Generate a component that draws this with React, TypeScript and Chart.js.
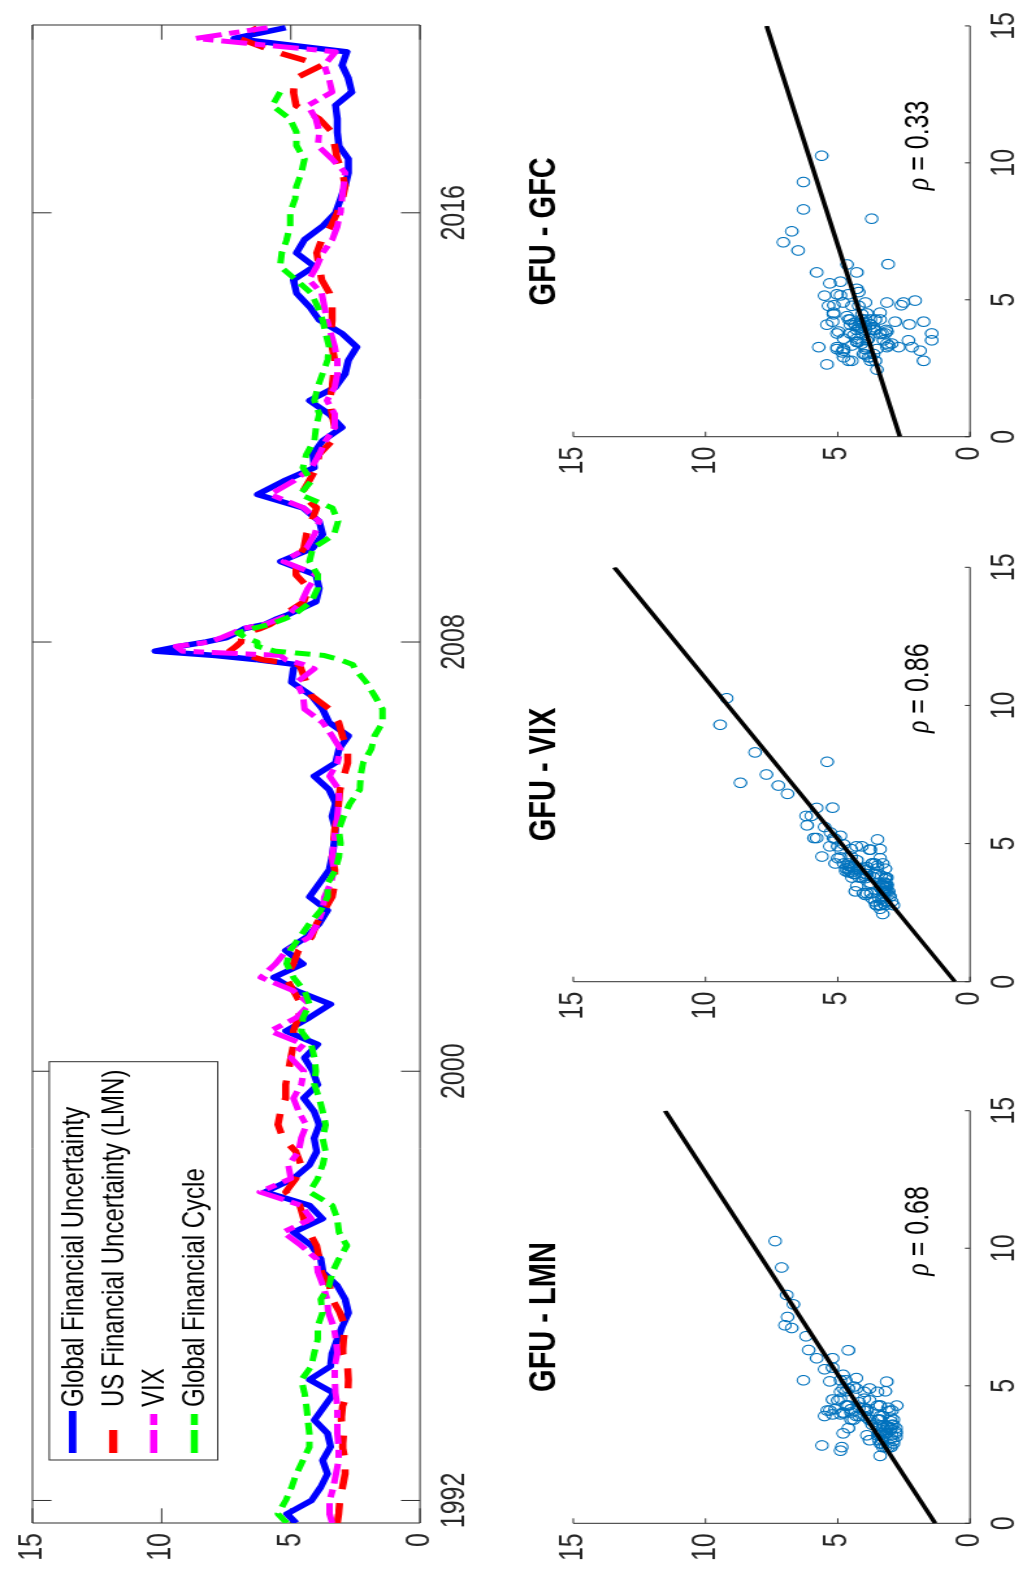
import React, { useEffect, useRef } from "react";
import { Chart, registerables } from "chart.js";

Chart.register(...registerables);

// ---------------- data ----------------
const dates = [
  1991.58, 1991.75, 1992.0, 1992.25, 1992.5, 1992.75,
  1993.0, 1993.25, 1993.5, 1993.75,
  1994.0, 1994.25, 1994.5, 1994.75,
  1995.0, 1995.25, 1995.5, 1995.75,
  1996.0, 1996.25, 1996.5, 1996.75,
  1997.0, 1997.25, 1997.5, 1997.75,
  1998.0, 1998.25, 1998.5, 1998.75,
  1999.0, 1999.25, 1999.5, 1999.75,
  2000.0, 2000.25, 2000.5, 2000.75,
  2001.0, 2001.25, 2001.5, 2001.75,
  2002.0, 2002.25, 2002.5, 2002.75,
  2003.0, 2003.25, 2003.5, 2003.75,
  2004.0, 2004.25, 2004.5, 2004.75,
  2005.0, 2005.25, 2005.5, 2005.75,
  2006.0, 2006.25, 2006.5, 2006.75,
  2007.0, 2007.25, 2007.5,
  2007.58, 2007.67, 2007.75, 2007.83, 2007.92, 2008.0, 2008.08, 2008.17, 2008.25, 2008.33, 2008.42, 2008.5,
  2008.75,
  2009.0, 2009.25, 2009.5, 2009.75,
  2010.0, 2010.25, 2010.5, 2010.75,
  2011.0, 2011.25, 2011.5, 2011.75,
  2012.0, 2012.25, 2012.5, 2012.75,
  2013.0, 2013.25, 2013.5, 2013.75,
  2014.0, 2014.25, 2014.5, 2014.75,
  2015.0, 2015.25, 2015.5, 2015.75,
  2016.0, 2016.25, 2016.5, 2016.75,
  2017.0, 2017.25, 2017.5, 2017.75,
  2018.0, 2018.25, 2018.5, 2018.75,
  2019.0, 2019.25, 2019.45,
];

const gfu = [
  4.8, 5.15, 4.2, 3.84, 3.58, 3.77,
  3.46, 3.58, 4.09, 3.71,
  3.33, 4.28, 3.46, 3.4,
  3.2, 3.0, 2.77, 2.9,
  3.2, 3.75, 3.84, 4.2,
  4.9, 3.77, 4.28, 6.0,
  4.9, 4.28, 4.0, 4.1,
  3.9, 4.1, 4.5, 3.96,
  4.15, 4.47, 3.96, 5.2,
  4.28, 3.46, 4.78, 5.66,
  4.53, 5.2, 4.4, 3.9,
  3.58, 4.28, 3.9, 3.52,
  3.4, 3.33, 3.27, 3.4,
  3.27, 3.52, 4.1, 3.27,
  3.14, 2.77, 3.52, 3.77,
  4.2, 4.97, 4.9,
  4.8, 6.3, 7.96, 10.26, 9.3, 8.3, 7.5, 7.1, 6.8, 6.0, 5.6, 5.16,
  4.03,
  3.9, 4.03, 5.4, 4.15,
  3.77, 3.9, 4.53, 6.29,
  5.28, 4.09, 4.15, 3.77,
  3.02, 3.52, 4.28, 3.27,
  2.9, 2.77, 2.45, 3.02,
  3.9, 4.28, 4.78, 4.9,
  4.09, 4.78, 4.47, 3.77,
  3.27, 3.08, 2.9, 2.77,
  2.77, 3.14, 3.2, 3.2,
  3.27, 2.64, 2.77, 3.02,
  2.83, 7.2, 5.2,
];

const lmn = [
  3.2, 3.15, 3.1, 3.0, 2.9, 2.9,
  3.0, 2.96, 3.05, 3.0,
  2.8, 2.77, 2.8, 3.0,
  2.96, 2.9, 3.1, 3.4,
  3.5, 3.8, 3.9, 4.0,
  4.3, 4.5, 4.65, 5.2,
  4.8, 4.6, 4.8, 5.3,
  5.5, 5.4, 5.2, 5.2,
  5.1, 5.0, 4.9, 4.9,
  4.7, 4.6, 4.9, 5.2,
  4.9, 4.7, 4.2, 4.0,
  3.7, 3.4, 3.3, 3.3,
  3.4, 3.35, 3.3, 3.2,
  3.15, 3.1, 2.95, 2.8,
  2.8, 3.0, 3.15, 3.5,
  4.2, 4.4, 4.6,
  4.7, 6.1, 6.68, 7.37, 7.12, 6.93, 6.9, 6.74, 6.2, 5.8, 5.5, 5.3,
  4.5,
  4.3, 4.8, 4.8, 4.5,
  4.4, 4.2, 4.0, 4.6,
  4.3, 4.0, 3.9, 3.4,
  3.3, 3.4, 3.5, 3.4,
  3.35, 3.3, 3.4, 3.45,
  3.4, 3.4, 3.5, 3.8,
  3.9, 4.0, 3.8, 3.45,
  3.2, 3.0, 2.9, 3.0,
  3.2, 3.3, 3.4, 3.9,
  4.8, 4.9, 4.85, 3.8,
  5.6, 7.0, 6.3,
];

const vix = [
  3.4, 3.5, 3.5, 3.35, 3.25, 3.15,
  3.15, 3.2, 3.2, 3.2,
  3.27, 3.3, 3.3, 3.2,
  3.25, 3.35, 3.55, 3.6,
  3.75, 3.95, 4.0, 4.6,
  5.3, 4.2, 4.6, 6.2,
  5.0, 5.1, 4.7, 4.6,
  4.4, 4.7, 4.9, 4.6,
  4.5, 5.0, 4.5, 5.8,
  4.78, 4.28, 4.9, 6.16,
  5.6, 5.16, 4.28, 3.96,
  3.77, 3.7, 3.46, 3.33,
  3.4, 3.33, 3.27, 3.2,
  3.14, 3.14, 3.5, 3.2,
  3.08, 3.4, 3.77, 4.47,
  4.53, 4.78, 4.09,
  4.5, 5.2, 5.4, 9.2, 9.45, 8.13, 7.7, 7.25, 6.9, 6.0, 5.5, 5.1,
  4.59,
  4.34, 3.96, 5.28, 4.4,
  4.09, 3.9, 4.5, 5.8,
  4.9, 4.2, 3.9, 3.65,
  3.3, 3.3, 3.6, 3.3,
  3.2, 3.2, 3.3, 3.45,
  3.6, 3.7, 3.8, 4.3,
  4.0, 3.77, 3.4, 3.2,
  3.08, 3.02, 2.96, 2.9,
  3.4, 3.96, 3.9, 4.03,
  4.34, 3.4, 3.52, 3.71,
  3.27, 8.68, 5.9,
];

const gfc = [
  5.15, 5.5, 5.2, 4.97, 4.78, 4.53,
  4.28, 4.28, 4.34, 4.4,
  4.47, 4.59, 4.21, 4.09,
  3.96, 3.96, 3.77, 3.84,
  3.52, 3.4, 3.14, 2.83,
  3.14, 3.2, 3.4, 4.28,
  3.96, 3.77, 3.65, 3.77,
  3.65, 3.77, 3.9, 4.09,
  4.03, 4.09, 4.21, 4.6,
  4.53, 4.28, 4.47, 4.9,
  5.16, 5.03, 4.65, 4.28,
  3.84, 3.58, 3.58, 3.27,
  3.14, 3.08, 3.14, 2.96,
  2.7, 2.33, 2.3, 2.2,
  1.89, 1.76, 1.45, 1.45,
  1.76, 2.08, 2.52,
  2.6, 3.1, 3.72, 5.61, 6.3, 6.3, 6.74, 7.06, 6.5, 5.8, 5.3, 4.9,
  4.21,
  3.96, 3.96, 4.28, 4.15,
  3.33, 3.17, 3.4, 4.65,
  4.21, 4.53, 4.4, 4.09,
  4.03, 3.9, 4.09, 3.96,
  3.77, 3.58, 3.52, 3.65,
  3.77, 3.96, 4.21, 4.8,
  5.41, 5.35, 5.16, 5.03,
  5.03, 4.84, 4.78, 4.59,
  4.47, 4.78, 4.78, 5.03,
  5.72, 5.41, null, null,
  null, null, null,
];

const seriesNames = [
  "Global Financial Uncertainty",
  "US Financial Uncertainty (LMN)",
  "VIX",
  "Global Financial Cycle",
];
const yearTicks = [1992, 2000, 2008, 2016];
const valueTicks = [0, 5, 10, 15];
const timeRange = [1991.58, 2019.5];

const scatterTitles = ["GFU - LMN", "GFU - VIX", "GFU - GFC"];
const rhoValues = ["0.68", "0.86", "0.33"];
const rhoAnchor = [9, 1.9];
// regression line: y at x = 0 and y at x = 15
const fitLMN = [1.32, 11.53];
const fitVIX = [0.57, 13.45];
const fitGFC = [2.65, 7.69];
const fitX = [0, 15];

// ---------------- styling / layout ----------------
const S = 1.3; // vertical stretch of the original figure
const W = 1569;
const HU = 1021 / S;
const FONT = "'Liberation Sans', Arial, Helvetica, sans-serif";
const AXIS_COLOR = "#2e2e2e";
const TICK_COLOR = "#262626";

const toPoints = (xs: number[], ys: (number | null)[]) =>
  xs.map((x, i) => ({ x, y: ys[i] }));
const pairs = (a: (number | null)[], b: (number | null)[]) =>
  a
    .map((v, i) => (v == null || b[i] == null ? null : { x: v, y: b[i] as number }))
    .filter((p) => p !== null) as { x: number; y: number }[];

const axesPlugin = {
  id: "matlabAxes",
  beforeDatasetsDraw(chart: any, _args: any, opts: any) {
    const { ctx, chartArea: a, scales } = chart;
    const xs = scales.x;
    const ys = scales.y;
    ctx.save();
    ctx.strokeStyle = AXIS_COLOR;
    ctx.lineWidth = 1;
    ctx.beginPath();
    if (opts.box) {
      ctx.rect(a.left, a.top, a.right - a.left, a.bottom - a.top);
    } else {
      ctx.moveTo(a.left, a.top);
      ctx.lineTo(a.left, a.bottom);
      ctx.lineTo(a.right, a.bottom);
    }
    for (const t of xs.ticks) {
      const px = xs.getPixelForValue(t.value);
      ctx.moveTo(px, a.bottom);
      ctx.lineTo(px, a.bottom - opts.xTick);
      if (opts.box) {
        ctx.moveTo(px, a.top);
        ctx.lineTo(px, a.top + opts.xTick);
      }
    }
    for (const t of ys.ticks) {
      const py = ys.getPixelForValue(t.value);
      ctx.moveTo(a.left, py);
      ctx.lineTo(a.left + opts.yTick, py);
      if (opts.box) {
        ctx.moveTo(a.right, py);
        ctx.lineTo(a.right - opts.yTick, py);
      }
    }
    ctx.stroke();
    ctx.restore();
  },
};

const legendStyles = [
  { color: "#0000ff", width: 5.6, dash: [] as number[] },
  { color: "#ff0000", width: 6.4, dash: [23, 19] },
  { color: "#ff00ff", width: 5.6, dash: [23, 5, 11, 5] },
  { color: "#00ff00", width: 5.4, dash: [23, 5, 11, 5] },
];

const legendPlugin = {
  id: "mlegend",
  afterDatasetsDraw(chart: any) {
    const ctx = chart.ctx;
    ctx.save();
    const bx = 109, by = 37.9, bw = 398.3, bh = 129.6;
    ctx.fillStyle = "#ffffff";
    ctx.fillRect(bx, by, bw, bh);
    ctx.strokeStyle = AXIS_COLOR;
    ctx.lineWidth = 1;
    ctx.strokeRect(bx, by, bw, bh);
    seriesNames.forEach((name, i) => {
      const st = legendStyles[i];
      const cy = 55.9 + i * 31.2;
      ctx.setLineDash(st.dash);
      ctx.lineCap = "butt";
      ctx.strokeStyle = st.color;
      ctx.lineWidth = st.width;
      ctx.beginPath();
      ctx.moveTo(116, cy);
      ctx.lineTo(158, cy);
      ctx.stroke();
      ctx.setLineDash([]);
      ctx.fillStyle = "#000000";
      ctx.font = `24px ${FONT}`;
      ctx.textBaseline = "middle";
      ctx.textAlign = "left";
      ctx.fillText(name, 162, cy + 1);
    });
    ctx.restore();
  },
};

const rhoPlugin = {
  id: "rho",
  afterDatasetsDraw(chart: any, _args: any, opts: any) {
    const { ctx, scales } = chart;
    const px = scales.x.getPixelForValue(rhoAnchor[0]);
    const py = scales.y.getPixelForValue(rhoAnchor[1]);
    ctx.save();
    ctx.fillStyle = "#000000";
    ctx.textBaseline = "middle";
    ctx.textAlign = "left";
    ctx.font = `italic 26px 'Liberation Serif', 'Times New Roman', serif`;
    ctx.fillText("\u03c1", px, py);
    const w = ctx.measureText("\u03c1").width;
    ctx.font = `25px ${FONT}`;
    ctx.fillText(" = " + opts.text, px + w, py);
    ctx.restore();
  },
};

const tickFont = { family: FONT, size: 25 };

function tsConfig(): any {
  return {
    type: "line",
    data: {
      datasets: [
        {
          label: seriesNames[3],
          data: toPoints(dates, gfc),
          borderColor: "#00ff00",
          borderWidth: 5,
          borderDash: [12, 7],
          order: 1,
        },
        {
          label: seriesNames[2],
          data: toPoints(dates, vix),
          borderColor: "#ff00ff",
          borderWidth: 5,
          borderDash: [20, 6, 8, 6],
          order: 2,
        },
        {
          label: seriesNames[1],
          data: toPoints(dates, lmn),
          borderColor: "#ff0000",
          borderWidth: 5.5,
          borderDash: [20, 14],
          order: 3,
        },
        {
          label: seriesNames[0],
          data: toPoints(dates, gfu),
          borderColor: "#0000ff",
          borderWidth: 5.5,
          order: 4,
        },
      ],
    },
    options: {
      responsive: false,
      animation: false,
      events: [],
      elements: {
        point: { radius: 0 },
        line: { tension: 0, fill: false, borderJoinStyle: "round", capBezierPoints: false },
      },
      datasets: { line: { clip: 0, spanGaps: false } },
      layout: { padding: { left: 0, right: 25, top: 17.5, bottom: 0 } },
      plugins: {
        legend: { display: false },
        tooltip: { enabled: false },
        title: { display: false },
        matlabAxes: { box: true, xTick: 14.6, yTick: 14.7 },
      },
      scales: {
        x: {
          type: "linear",
          min: timeRange[0],
          max: timeRange[1],
          afterBuildTicks: (s: any) => {
            s.ticks = yearTicks.map((v) => ({ value: v }));
          },
          afterFit: (s: any) => {
            s.height = 56.9;
          },
          grid: { display: false, drawTicks: false },
          border: { display: false },
          ticks: {
            font: tickFont,
            color: TICK_COLOR,
            padding: 12,
            maxRotation: 0,
            autoSkip: false,
            callback: (v: any) => String(v),
          },
        },
        y: {
          type: "linear",
          min: 0,
          max: 15,
          afterBuildTicks: (s: any) => {
            s.ticks = valueTicks.map((v) => ({ value: v }));
          },
          afterFit: (s: any) => {
            s.width = 46;
          },
          grid: { display: false, drawTicks: false },
          border: { display: false },
          ticks: {
            font: tickFont,
            color: TICK_COLOR,
            padding: 10,
            callback: (v: any) => String(v),
          },
        },
      },
    },
    plugins: [axesPlugin, legendPlugin],
  };
}

const SC_H = 405;

function scatterConfig(
  title: string,
  rho: string,
  pts: { x: number; y: number }[],
  fit: number[],
  canvasLeft: number,
  canvasWidth: number,
  plotLeft: number,
  plotRight: number
): any {
  return {
    type: "scatter",
    data: {
      datasets: [
        {
          data: fitX.map((x, i) => ({ x, y: fit[i] })),
          showLine: true,
          borderColor: "#000000",
          borderWidth: 3.6,
          pointRadius: 0,
          clip: 0,
        },
        {
          data: pts,
          showLine: false,
          pointStyle: "circle",
          pointRadius: 4.8,
          borderWidth: 1.1,
          borderColor: "#0072bd",
          backgroundColor: "rgba(0,0,0,0)",
          clip: 6,
        },
      ],
    },
    options: {
      responsive: false,
      animation: false,
      events: [],
      layout: {
        padding: { left: 0, right: canvasLeft + canvasWidth - plotRight, top: 0, bottom: 0 },
      },
      plugins: {
        legend: { display: false },
        tooltip: { enabled: false },
        title: {
          display: true,
          text: title,
          fullSize: false,
          color: "#000000",
          font: { family: FONT, size: 29, weight: "bold" },
          padding: { top: 21.8, bottom: 4.4 },
        },
        matlabAxes: { box: false, xTick: 3.9, yTick: 5 },
        rho: { text: rho },
      },
      scales: {
        x: {
          type: "linear",
          min: 0,
          max: 15,
          afterBuildTicks: (s: any) => {
            s.ticks = valueTicks.map((v) => ({ value: v }));
          },
          afterFit: (s: any) => {
            s.height = SC_H - 366.2;
          },
          grid: { display: false, drawTicks: false },
          border: { display: false },
          ticks: {
            font: tickFont,
            color: TICK_COLOR,
            padding: 12,
            maxRotation: 0,
            autoSkip: false,
            callback: (v: any) => String(v),
          },
        },
        y: {
          type: "linear",
          min: 0,
          max: 15,
          afterBuildTicks: (s: any) => {
            s.ticks = valueTicks.map((v) => ({ value: v }));
          },
          afterFit: (s: any) => {
            s.width = plotLeft - canvasLeft;
          },
          grid: { display: false, drawTicks: false },
          border: { display: false },
          ticks: {
            font: tickFont,
            color: TICK_COLOR,
            padding: 10,
            callback: (v: any) => String(v),
          },
        },
      },
    },
    plugins: [axesPlugin, rhoPlugin],
  };
}

const panels = [
  { left: 0, width: 500, plotLeft: 45.7, plotRight: 458.3 },
  { left: 530, width: 500, plotLeft: 587.3, plotRight: 1001.7 },
  { left: 1069, width: 500, plotLeft: 1132.3, plotRight: 1544 },
];

export default function App() {
  const tsRef = useRef<HTMLCanvasElement | null>(null);
  const sRefs = [
    useRef<HTMLCanvasElement | null>(null),
    useRef<HTMLCanvasElement | null>(null),
    useRef<HTMLCanvasElement | null>(null),
  ];

  useEffect(() => {
    const charts: Chart[] = [];
    if (tsRef.current) charts.push(new Chart(tsRef.current, tsConfig()));
    const scatterData = [pairs(gfu, lmn), pairs(gfu, vix), pairs(gfu, gfc)];
    const fits = [fitLMN, fitVIX, fitGFC];
    sRefs.forEach((r, i) => {
      if (!r.current) return;
      const p = panels[i];
      charts.push(
        new Chart(
          r.current,
          scatterConfig(
            scatterTitles[i],
            rhoValues[i],
            scatterData[i],
            fits[i],
            p.left,
            p.width,
            p.plotLeft,
            p.plotRight
          )
        )
      );
    });
    return () => charts.forEach((c) => c.destroy());
  }, []);

  return (
    <div
      style={{
        position: "fixed",
        left: 0,
        top: 0,
        width: W,
        height: HU,
        transformOrigin: "0 0",
        transform: `translate(0px, ${W}px) rotate(-90deg) scale(1, ${S})`,
        background: "#ffffff",
        overflow: "hidden",
      }}
    >
      <canvas
        ref={tsRef}
        width={W}
        height={380}
        style={{ position: "absolute", left: 0, top: 0, width: W, height: 380 }}
      />
      {panels.map((p, i) => (
        <canvas
          key={i}
          ref={sRefs[i]}
          width={p.width}
          height={SC_H}
          style={{ position: "absolute", left: p.left, top: 380, width: p.width, height: SC_H }}
        />
      ))}
    </div>
  );
}
